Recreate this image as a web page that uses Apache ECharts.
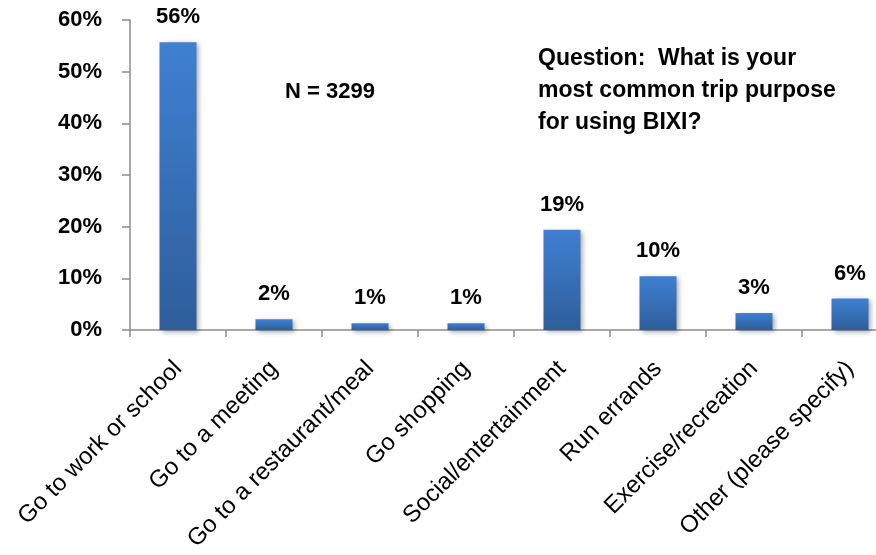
<!DOCTYPE html>
<html>
<head>
<meta charset="utf-8">
<script src="https://cdn.jsdelivr.net/npm/echarts@6/dist/echarts.min.js"></script>
<style>
  html, body { margin: 0; padding: 0; background: #ffffff; overflow: hidden; }
  /* plot runs slightly past the right edge of the page, so the canvas is wider than the window */
  #chart { width: 900px; height: 555px; }
</style>
</head>
<body>
<div id="chart"></div>
<script>
// Trip purpose survey responses (share of respondents, %)
const categories = [
  'Go to work or school',
  'Go to a meeting',
  'Go to a restaurant/meal',
  'Go shopping',
  'Social/entertainment',
  'Run errands',
  'Exercise/recreation',
  'Other (please specify)'
];
const shares = [55.7, 2.1, 1.3, 1.3, 19.4, 10.4, 3.3, 6.1];
const yTicks = [0, 10, 20, 30, 40, 50, 60];
const sampleNote = 'N = 3299';
const questionLines = ['Question:  What is your', 'most common trip purpose', 'for using BIXI?'];

const FONT = '"Liberation Sans", Arial, sans-serif';

const chart = echarts.init(document.getElementById('chart'), null, { renderer: 'canvas' });

chart.setOption({
  animation: false,
  backgroundColor: '#ffffff',
  grid: { left: 130, top: 20, width: 768, height: 310, containLabel: false },
  xAxis: {
    type: 'category',
    data: categories,
    axisLine: { lineStyle: { color: '#8c8c8c', width: 1.5 } },
    axisTick: { show: true, length: 7, lineStyle: { color: '#8c8c8c', width: 1.5 } },
    axisLabel: {
      rotate: 45,
      interval: 0,
      margin: 35,
      color: '#000000',
      fontFamily: FONT,
      fontSize: 24
    }
  },
  yAxis: {
    type: 'value',
    min: yTicks[0],
    max: yTicks[yTicks.length - 1],
    interval: yTicks[1] - yTicks[0],
    splitLine: { show: false },
    axisLine: { show: true, lineStyle: { color: '#8c8c8c', width: 1.5 } },
    axisTick: { show: true, length: 8, lineStyle: { color: '#8c8c8c', width: 1.5 } },
    axisLabel: {
      margin: 28,
      color: '#000000',
      fontFamily: FONT,
      fontWeight: 'bold',
      fontSize: 22,
      formatter: v => v + '%'
    }
  },
  series: [{
    type: 'bar',
    data: shares,
    barWidth: 37,
    itemStyle: {
      color: new echarts.graphic.LinearGradient(0, 0, 0, 1, [
        { offset: 0, color: '#3f80d2' },
        { offset: 1, color: '#2e5e9b' }
      ]),
      shadowColor: 'rgba(0,0,0,0.35)',
      shadowBlur: 5,
      shadowOffsetX: 2,
      shadowOffsetY: 2
    },
    label: {
      show: true,
      position: 'top',
      distance: 14,
      color: '#000000',
      fontFamily: FONT,
      fontWeight: 'bold',
      fontSize: 22,
      formatter: p => Math.round(p.value) + '%'
    }
  }],
  graphic: [
    {
      type: 'text',
      left: 285,
      top: 81,
      style: {
        text: sampleNote,
        fill: '#000000',
        font: 'bold 22px ' + FONT
      }
    },
    {
      type: 'text',
      left: 538,
      top: 43,
      style: {
        text: questionLines.join('\n'),
        fill: '#000000',
        font: 'bold 23px ' + FONT,
        lineHeight: 32
      }
    }
  ]
});
</script>
</body>
</html>
